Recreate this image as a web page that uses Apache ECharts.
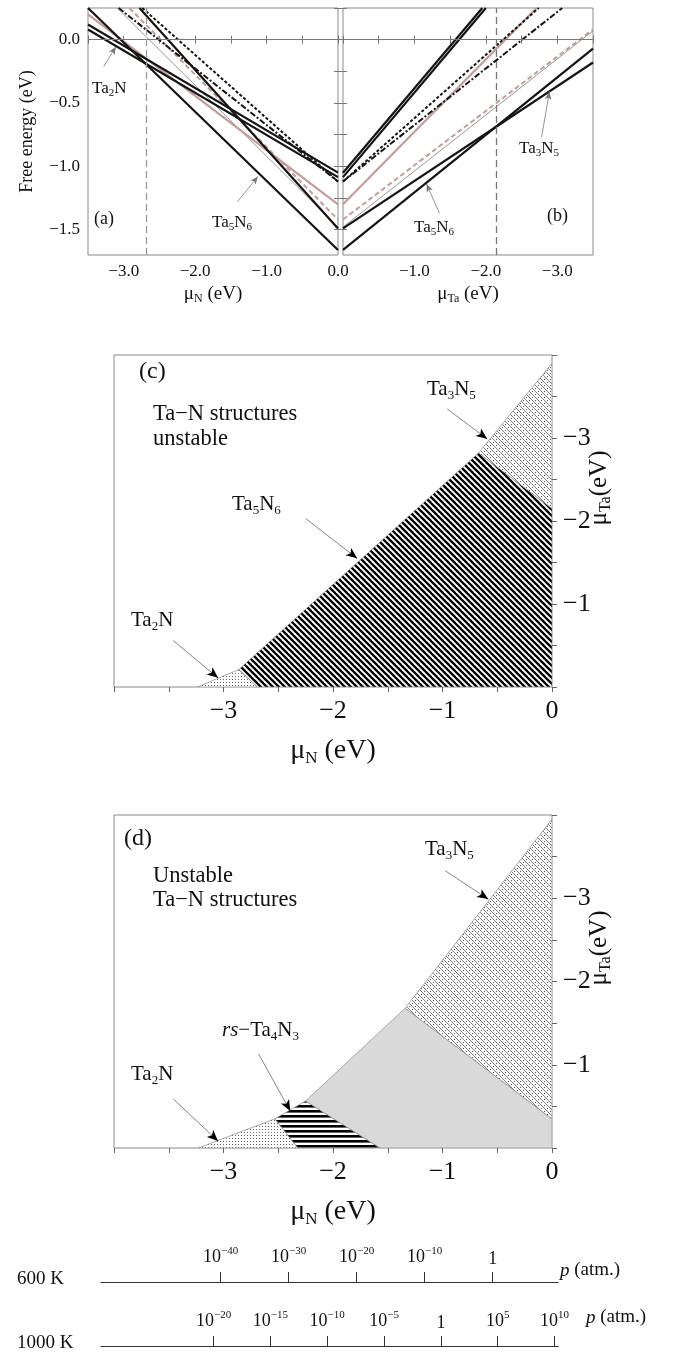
<!DOCTYPE html>
<html><head><meta charset="utf-8">
<script src="https://cdn.jsdelivr.net/npm/echarts@6/dist/echarts.min.js"></script>
<style>html,body{margin:0;padding:0;background:#fff}#c{width:673px;height:1353px}</style>
</head><body><div id="c"></div><script>
// ---------------- DATA ----------------
// Panel (a): free energy (eV) vs mu_N (eV); each line given by two points
const a_Ta5N6  = [[-3.5, 0.25], [0, -1.66]];
const a_Ta2N_1 = [[-3.5, 0.12], [0, -1.05]];
const a_Ta2N_2 = [[-3.5, 0.08], [0, -1.085]];
const a_Ta4N3  = [[-3.5, 0.20], [0, -1.30]];
const a_Ta4N5  = [[-3.09, 0.25], [0, -1.48]];
const a_Ta3N4  = [[-2.92, 0.25], [0, -1.42]];
const a_Ta3N5  = [[-2.78, 0.25], [0, -1.49]];
const a_TaN    = [[-2.74, 0.25], [0, -1.12]];
const a_TaNx   = [[-3.07, 0.25], [0, -1.12]];
const a_vline  = -2.68;
// Panel (b): free energy (eV) vs mu_Ta (eV)
const b_Ta5N6  = [[0, -1.66], [-3.5, -0.07]];
const b_Ta3N5  = [[0, -1.49], [-3.5, -0.18]];
const b_Ta4N5  = [[0, -1.48], [-3.5, 0.07]];
const b_Ta3N4  = [[0, -1.42], [-3.5, 0.08]];
const b_Ta4N3  = [[0, -1.30], [-2.71, 0.25]];
const b_TaN    = [[0, -1.12], [-2.74, 0.25]];
const b_TaNx   = [[0, -1.12], [-3.07, 0.25]];
const b_Ta2N_1 = [[0, -1.05], [-1.95, 0.25]];
const b_Ta2N_2 = [[0, -1.085], [-2.0, 0.25]];
const b_vline  = -2.14;
// Panel (c): stability regions [mu_N, mu_Ta]
const c_Ta2N  = [[-3.24, 0], [-2.86, -0.21], [-2.69, 0]];
const c_Ta5N6 = [[-2.69, 0], [-2.86, -0.21], [-0.67, -2.82], [0, -2.15], [0, 0]];
const c_Ta3N5 = [[-0.67, -2.82], [0, -3.9], [0, -2.15]];
// Panel (d)
const d_Ta2N   = [[-3.23, 0], [-2.53, -0.35], [-2.32, 0]];
const d_Ta4N3  = [[-2.53, -0.35], [-2.25, -0.565], [-1.57, 0], [-2.32, 0]];
const d_Ta4N5  = [[-2.25, -0.565], [-1.34, -1.68], [0, -0.35], [0, 0], [-1.57, 0]];
const d_Ta3N5  = [[-1.34, -1.68], [0, -3.95], [0, -0.35]];
// Tick values
const tickA_X = [-3.5, -3, -2.5, -2, -1.5, -1, -0.5, 0];
const labA_X  = [-3, -2, -1, 0];
const labB_X  = [-1, -2, -3];
const tickA_Y = [0.25, 0, -0.25, -0.5, -0.75, -1, -1.25, -1.5];
const labA_Y  = [0, -0.5, -1, -1.5];
const tickC_X = [-4, -3.5, -3, -2.5, -2, -1.5, -1, -0.5, 0];
const labC_X  = [-3, -2, -1, 0];
const tickC_Y = [-4, -3.5, -3, -2.5, -2, -1.5, -1, -0.5, 0];
const labC_Y  = [-3, -2, -1];
// Pressure scales (log10 p in atm)
const p600  = [-40, -30, -20, -10, 0];
const p1000 = [-20, -15, -10, -5, 0, 5, 10];
// Annotation arrows [from, to] in data coords
const arrA = [[[-3.28, -0.213], [-3.11, -0.055]], [[-1.41, -1.28], [-1.12, -1.08]]];
const arrB = [[[-1.35, -1.37], [-1.17, -1.14]], [[-2.78, -0.77], [-2.89, -0.41]]];
const arrC = [[[-0.957, -3.35], [-0.593, -2.99]], [[-2.25, -2.03], [-1.78, -1.55]], [[-3.46, -0.56], [-3.05, -0.11]]];
const arrD = [[[-0.975, -3.33], [-0.583, -2.99]], [[-2.68, -1.13], [-2.39, -0.445]], [[-3.46, -0.59], [-3.05, -0.084]]];

// ---------------- STYLE ----------------
const SERIF = "'Liberation Serif','Times New Roman','DejaVu Serif',serif";
const MINUS = '\u2212';
function rich(fs) {
  return {
    n: {fontSize: fs, fontFamily: SERIF, color: '#111'},
    i: {fontSize: fs, fontFamily: SERIF, fontStyle: 'italic', color: '#111'},
    s: {fontSize: Math.round(fs * 0.62), fontFamily: SERIF, color: '#111', padding: [Math.round(fs * 0.55), 0, 0, 0]},
    u: {fontSize: Math.round(fs * 0.62), fontFamily: SERIF, color: '#111', padding: [0, 0, Math.round(fs * 0.62), 0]}
  };
}
const STY = {
  thick: {color: '#141414', width: 2.2, type: 'solid'},
  pink:  {color: '#c39c9c', width: 2.2, type: 'solid'},
  pinkd: {color: '#c39c9c', width: 2.0, type: [5, 3]},
  thin:  {color: '#8c8c8c', width: 0.9, type: 'solid'},
  dash:  {color: '#141414', width: 2.0, type: [3, 2]},
  dashdot: {color: '#141414', width: 2.0, type: [6, 2, 2, 2]}
};
const fmt1 = v => (v < 0 ? MINUS : '') + Math.abs(v).toFixed(1);
const fmt0 = v => (v < 0 ? MINUS : '') + Math.abs(v);

// ---------------- PATTERNS ----------------
function tile(w, h, draw) {
  const cv = document.createElement('canvas'); cv.width = w; cv.height = h;
  const g = cv.getContext('2d'); g.fillStyle = '#fff'; g.fillRect(0, 0, w, h); draw(g);
  return {image: cv, repeat: 'repeat'};
}
const patStripe = tile(6, 6, g => {
  g.strokeStyle = '#000'; g.lineWidth = 2.3;
  for (const k of [-6, 0, 6]) { g.beginPath(); g.moveTo(k - 1, -1); g.lineTo(k + 7, 7); g.stroke(); }
});
const patTa3N5 = tile(6, 6, g => {
  g.strokeStyle = '#6e6e6e'; g.lineWidth = 0.9;
  for (const k of [-6, 0, 6]) { g.beginPath(); g.moveTo(k - 1, -1); g.lineTo(k + 7, 7); g.stroke(); }
  g.fillStyle = '#555'; g.fillRect(4, 1, 1, 1); g.fillRect(1, 4, 1, 1);
});
const patDots = tile(3, 3, g => { g.fillStyle = '#666'; g.fillRect(1, 1, 1, 1); });
const patHoriz = tile(6, 5, g => { g.fillStyle = '#000'; g.fillRect(0, 0, 6, 2.6); });

// ---------------- HELPERS ----------------
function lineS(xi, yi, data, sty) {
  return {type: 'line', xAxisIndex: xi, yAxisIndex: yi, data: data, symbol: 'none', silent: true,
    clip: true, lineStyle: {color: sty.color, width: sty.width, type: sty.type}};
}
function poly(xi, yi, pts, fill) {
  return {type: 'custom', xAxisIndex: xi, yAxisIndex: yi, data: pts, silent: true, clip: true,
    renderItem: (params, api) => {
      if (params.dataIndex !== 0) return null;
      return {type: 'polygon', shape: {points: pts.map(p => api.coord(p))},
        style: {fill: fill, stroke: '#8a8a8a', lineWidth: 0.7}};
    }};
}
function mline(xi, yi, segs, color, width, type, sym, symSize) {
  return {type: 'line', xAxisIndex: xi, yAxisIndex: yi, data: [], silent: true,
    markLine: {silent: true, animation: false, symbol: sym, symbolSize: symSize, label: {show: false},
      lineStyle: {color: color, width: width, type: type}, emphasis: {disabled: true},
      data: segs.map(s => [{coord: s[0]}, {coord: s[1]}])}};
}
function heads(segs) { // short segments near arrow tips (for black heads)
  return segs.map(s => [[s[0][0] + 0.9 * (s[1][0] - s[0][0]), s[0][1] + 0.9 * (s[1][1] - s[0][1])], s[1]]);
}

// ---------------- AXES ----------------
const frame = '#8a8a8a';
const smallTick = (vals) => ({show: true, inside: true, length: 4, customValues: vals, lineStyle: {color: '#777', width: 1}});
const labAB = {fontFamily: SERIF, fontSize: 17, color: '#111', margin: 8};
const labCD = {fontFamily: SERIF, fontSize: 26, color: '#111', margin: 11};
const xAxes = [
  // 0: a bottom
  {gridIndex: 0, type: 'value', min: -3.5, max: 0, position: 'bottom', axisLine: {show: false}, splitLine: {show: false},
   axisTick: smallTick(tickA_X),
   axisLabel: Object.assign({customValues: labA_X, formatter: fmt1}, labAB),
   name: '{n|μ}{s|N}{n| (eV)}', nameLocation: 'middle', nameGap: 28, nameTextStyle: {rich: rich(19)}},
  // 1: a top
  {gridIndex: 0, type: 'value', min: -3.5, max: 0, position: 'top', axisLine: {show: false}, splitLine: {show: false},
   axisTick: smallTick(tickA_X), axisLabel: {show: false}},
  // 2: b bottom
  {gridIndex: 1, type: 'value', min: -3.5, max: 0, inverse: true, position: 'bottom', axisLine: {show: false}, splitLine: {show: false},
   axisTick: smallTick(tickA_X),
   axisLabel: Object.assign({customValues: labB_X, formatter: fmt1}, labAB),
   name: '{n|μ}{s|Ta}{n| (eV)}', nameLocation: 'middle', nameGap: 28, nameTextStyle: {rich: rich(19)}},
  // 3: b top
  {gridIndex: 1, type: 'value', min: -3.5, max: 0, inverse: true, position: 'top', axisLine: {show: false}, splitLine: {show: false},
   axisTick: smallTick(tickA_X), axisLabel: {show: false}},
  // 4: c bottom
  {gridIndex: 2, type: 'value', min: -4, max: 0, position: 'bottom', axisLine: {show: false}, splitLine: {show: false},
   axisTick: {show: true, inside: false, length: 5, customValues: tickC_X, lineStyle: {color: '#666'}},
   axisLabel: Object.assign({customValues: labC_X, formatter: fmt0}, labCD),
   name: '{n|μ}{s|N}{n| (eV)}', nameLocation: 'middle', nameGap: 48, nameTextStyle: {rich: rich(28)}},
  // 5: d bottom
  {gridIndex: 3, type: 'value', min: -4, max: 0, position: 'bottom', axisLine: {show: false}, splitLine: {show: false},
   axisTick: {show: true, inside: false, length: 5, customValues: tickC_X, lineStyle: {color: '#666'}},
   axisLabel: Object.assign({customValues: labC_X, formatter: fmt0}, labCD),
   name: '{n|μ}{s|N}{n| (eV)}', nameLocation: 'middle', nameGap: 48, nameTextStyle: {rich: rich(28)}},
  // 6: 600 K pressure
  {gridIndex: 4, type: 'value', min: -57.6, max: 9.6, position: 'bottom', splitLine: {show: false},
   axisLine: {show: true, lineStyle: {color: '#333', width: 1.2}},
   axisTick: {show: true, inside: true, length: 10, customValues: p600, lineStyle: {color: '#333', width: 1}},
   axisLabel: {inside: true, customValues: p600, margin: 14, rich: rich(18),
     formatter: v => v === 0 ? '{n|1}' : '{n|10}{u|' + (v < 0 ? MINUS : '') + Math.abs(v) + '}'}},
  // 7: 1000 K pressure
  {gridIndex: 5, type: 'value', min: -29.9, max: 10.3, position: 'bottom', splitLine: {show: false},
   axisLine: {show: true, lineStyle: {color: '#333', width: 1.2}},
   axisTick: {show: true, inside: true, length: 10, customValues: p1000, lineStyle: {color: '#333', width: 1}},
   axisLabel: {inside: true, customValues: p1000, margin: 14, rich: rich(18),
     formatter: v => v === 0 ? '{n|1}' : '{n|10}{u|' + (v < 0 ? MINUS : '') + Math.abs(v) + '}'}}
];
const yAxes = [
  // 0: a left
  {gridIndex: 0, type: 'value', min: -1.7, max: 0.25, position: 'left', axisLine: {show: false}, splitLine: {show: false},
   axisTick: smallTick(tickA_Y),
   axisLabel: Object.assign({customValues: labA_Y, formatter: fmt1}, labAB),
   name: 'Free energy (eV)', nameLocation: 'middle', nameGap: 52,
   nameTextStyle: {fontFamily: SERIF, fontSize: 18, color: '#111'}},
  // 1: a right
  {gridIndex: 0, type: 'value', min: -1.7, max: 0.25, position: 'right', axisLine: {show: false}, splitLine: {show: false},
   axisTick: smallTick(tickA_Y), axisLabel: {show: false}},
  // 2: b left
  {gridIndex: 1, type: 'value', min: -1.7, max: 0.25, position: 'left', axisLine: {show: false}, splitLine: {show: false},
   axisTick: smallTick(tickA_Y), axisLabel: {show: false}},
  // 3: b right
  {gridIndex: 1, type: 'value', min: -1.7, max: 0.25, position: 'right', axisLine: {show: false}, splitLine: {show: false},
   axisTick: smallTick(tickA_Y), axisLabel: {show: false}},
  // 4: c right
  {gridIndex: 2, type: 'value', min: -4, max: 0, inverse: true, position: 'right', axisLine: {show: false}, splitLine: {show: false},
   axisTick: {show: true, inside: false, length: 5, customValues: tickC_Y, lineStyle: {color: '#666'}},
   axisLabel: Object.assign({customValues: labC_Y, formatter: fmt0}, labCD)},
  // 5: d right
  {gridIndex: 3, type: 'value', min: -4, max: 0, inverse: true, position: 'right', axisLine: {show: false}, splitLine: {show: false},
   axisTick: {show: true, inside: false, length: 5, customValues: tickC_Y, lineStyle: {color: '#666'}},
   axisLabel: Object.assign({customValues: labC_Y, formatter: fmt0}, labCD)},
  {gridIndex: 4, type: 'value', min: 0, max: 1, show: false},
  {gridIndex: 5, type: 'value', min: 0, max: 1, show: false}
];

// ---------------- SERIES ----------------
const series = [
  // panel a
  mline(0, 0, [[[-3.5, 0], [0, 0]]], '#777', 1, 'solid', 'none', 0),
  mline(0, 0, [[[a_vline, -1.7], [a_vline, 0.25]]], '#9a9a9a', 1.3, [7, 4], 'none', 0),
  lineS(0, 0, a_Ta4N5, STY.thin),
  lineS(0, 0, a_Ta4N3, STY.pink),
  lineS(0, 0, a_Ta3N4, STY.pinkd),
  lineS(0, 0, a_TaNx, STY.dashdot),
  lineS(0, 0, a_TaN, STY.dash),
  lineS(0, 0, a_Ta3N5, STY.thick),
  lineS(0, 0, a_Ta2N_1, STY.thick),
  lineS(0, 0, a_Ta2N_2, STY.thick),
  lineS(0, 0, a_Ta5N6, STY.thick),
  mline(0, 0, arrA, '#777', 0.8, 'solid', ['none', 'arrow'], [5, 8]),
  // panel b
  mline(2, 2, [[[0, 0], [-3.5, 0]]], '#777', 1, 'solid', 'none', 0),
  mline(2, 2, [[[b_vline, -1.7], [b_vline, 0.25]]], '#777', 1.3, [7, 4], 'none', 0),
  lineS(2, 2, b_Ta4N5, STY.thin),
  lineS(2, 2, b_Ta4N3, STY.pink),
  lineS(2, 2, b_Ta3N4, STY.pinkd),
  lineS(2, 2, b_TaNx, STY.dashdot),
  lineS(2, 2, b_TaN, STY.dash),
  lineS(2, 2, b_Ta3N5, STY.thick),
  lineS(2, 2, b_Ta2N_1, STY.thick),
  lineS(2, 2, b_Ta2N_2, STY.thick),
  lineS(2, 2, b_Ta5N6, STY.thick),
  mline(2, 2, arrB, '#777', 0.8, 'solid', ['none', 'arrow'], [5, 8]),
  // panel c
  poly(4, 4, c_Ta2N, patDots),
  poly(4, 4, c_Ta5N6, patStripe),
  poly(4, 4, c_Ta3N5, patTa3N5),
  mline(4, 4, arrC, '#666', 0.8, 'solid', 'none', 0),
  mline(4, 4, heads(arrC), '#000', 0.8, 'solid', ['none', 'arrow'], [7, 11]),
  // panel d
  poly(5, 5, d_Ta2N, patDots),
  poly(5, 5, d_Ta4N3, patHoriz),
  poly(5, 5, d_Ta4N5, '#d9d9d9'),
  poly(5, 5, d_Ta3N5, patTa3N5),
  mline(5, 5, arrD, '#666', 0.8, 'solid', 'none', 0),
  mline(5, 5, heads(arrD), '#000', 0.8, 'solid', ['none', 'arrow'], [7, 11]),
  // pressure scale placeholders
  {type: 'line', xAxisIndex: 6, yAxisIndex: 6, data: [], silent: true},
  {type: 'line', xAxisIndex: 7, yAxisIndex: 7, data: [], silent: true}
];

// ---------------- TEXT ----------------
function txt(left, top, text, fs) {
  return {type: 'text', left: left, top: top, silent: true,
    style: {text: text, rich: rich(fs), fontFamily: SERIF, fontSize: fs, fill: '#111'}};
}
function vtxt(x, y, text, fs) { // rotated text, centred at (x, y)
  return {type: 'text', x: x, y: y, rotation: Math.PI / 2, silent: true,
    style: {text: text, rich: rich(fs), fontFamily: SERIF, fontSize: fs, fill: '#111', align: 'center', verticalAlign: 'middle'}};
}
const graphics = [
  txt(92, 80, '{n|Ta}{s|2}{n|N}', 17),
  txt(212, 214, '{n|Ta}{s|5}{n|N}{s|6}', 17),
  txt(94, 210, '{n|(a)}', 18),
  txt(414, 219, '{n|Ta}{s|5}{n|N}{s|6}', 17),
  txt(519, 140, '{n|Ta}{s|3}{n|N}{s|5}', 17),
  txt(547, 207, '{n|(b)}', 18),
  txt(139, 360, '{n|(c)}', 24),
  txt(153, 403, '{n|Ta' + MINUS + 'N structures}', 22.5),
  txt(153, 428, '{n|unstable}', 22.5),
  txt(427, 379, '{n|Ta}{s|3}{n|N}{s|5}', 21),
  txt(232, 494, '{n|Ta}{s|5}{n|N}{s|6}', 21),
  txt(131, 610, '{n|Ta}{s|2}{n|N}', 21),
  txt(124, 827, '{n|(d)}', 24),
  txt(153, 865, '{n|Unstable}', 22.5),
  txt(153, 889, '{n|Ta' + MINUS + 'N structures}', 22.5),
  txt(425, 839, '{n|Ta}{s|3}{n|N}{s|5}', 21),
  txt(222, 1020, '{i|rs}{n|' + MINUS + 'Ta}{s|4}{n|N}{s|3}', 21),
  txt(370, 1067, '{n|Ta}{s|4}{n|N}{s|5}', 21),
  txt(131, 1064, '{n|Ta}{s|2}{n|N}', 21),
  vtxt(599, 488, '{n|μ}{s|Ta}{n|(eV)}', 25),
  vtxt(599, 948, '{n|μ}{s|Ta}{n|(eV)}', 25),
  txt(17, 1270, '{n|600 K}', 19),
  txt(17, 1334, '{n|1000 K}', 19),
  txt(560, 1261, '{i|p}{n| (atm.)}', 19),
  txt(586, 1308, '{i|p}{n| (atm.)}', 19)
];

const option = {
  animation: false,
  backgroundColor: '#fff',
  grid: [
    {left: 88, top: 8, width: 250, height: 247, show: true, borderColor: frame, borderWidth: 1, backgroundColor: 'transparent'},
    {left: 343, top: 8, width: 250, height: 247, show: true, borderColor: frame, borderWidth: 1, backgroundColor: 'transparent'},
    {left: 114, top: 355, width: 438, height: 332, show: true, borderColor: frame, borderWidth: 1, backgroundColor: 'transparent'},
    {left: 114, top: 815, width: 438, height: 333, show: true, borderColor: frame, borderWidth: 1, backgroundColor: 'transparent'},
    {left: 101, top: 1262, width: 457, height: 20},
    {left: 101, top: 1326, width: 457, height: 20}
  ],
  xAxis: xAxes,
  yAxis: yAxes,
  series: series,
  graphic: graphics
};
const chart = echarts.init(document.getElementById('c'), null, {renderer: 'canvas', width: 673, height: 1353});
chart.setOption(option);
</script></body></html>
